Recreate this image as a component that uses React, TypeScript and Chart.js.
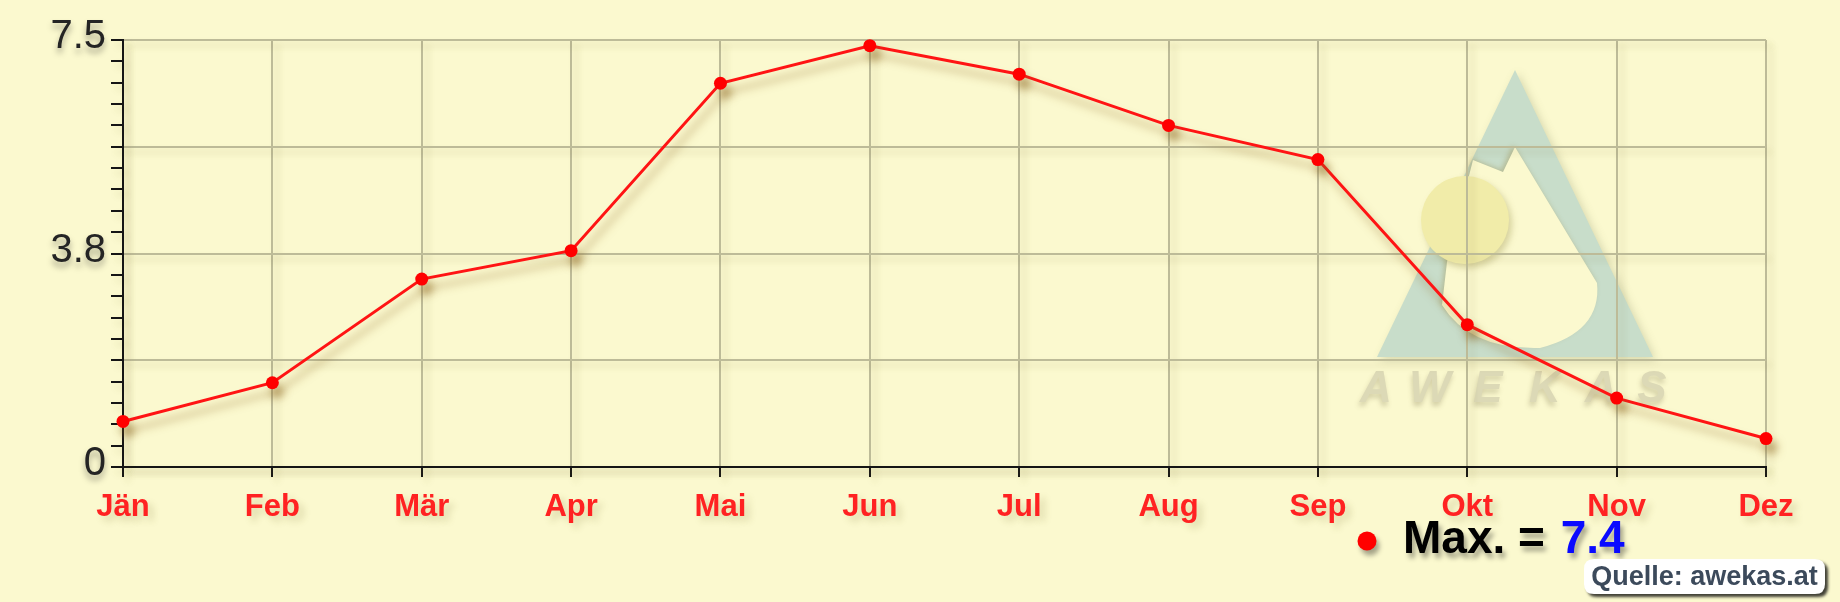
import React, { useEffect, useRef } from "react";
import { Chart, registerables } from "chart.js";

Chart.register(...registerables);

// ---- data ----
const MONTHS = ["Jän", "Feb", "Mär", "Apr", "Mai", "Jun", "Jul", "Aug", "Sep", "Okt", "Nov", "Dez"];
const MAX_VALUES = [0.8, 1.48, 3.3, 3.8, 6.74, 7.4, 6.9, 6.0, 5.4, 2.5, 1.21, 0.5];
const SERIES_NAME = "Max.";
const Y_MIN = 0;
const Y_MAX = 7.5;
const Y_STEP = 0.375;
const Y_LABEL_VALUES = [0, 3.75, 7.5];
const Y_LABELS = ["0", "3.8", "7.5"];
const SOURCE_TEXT = "Quelle: awekas.at";
const WATERMARK_LETTERS = ["A", "W", "E", "K", "A", "S"];

// ---- styles ----
const BG = "#fbf9cf";
const GRID = "#bdbb98";
const AXIS = "#151515";
const RED = "#ff1414";
const FONT = '"Liberation Sans", Arial, Helvetica, sans-serif';

function drawWatermark(ctx: CanvasRenderingContext2D) {
  ctx.save();
  // triangle
  ctx.shadowColor = "rgba(110,120,80,0.25)";
  ctx.shadowBlur = 8;
  ctx.shadowOffsetX = 3;
  ctx.shadowOffsetY = 3;
  ctx.fillStyle = "#c8ddca";
  ctx.beginPath();
  ctx.moveTo(1515, 70);
  ctx.lineTo(1653, 357);
  ctx.lineTo(1377, 357);
  ctx.closePath();
  ctx.fill();
  // inner cut
  ctx.shadowColor = "rgba(150,130,60,0.35)";
  ctx.shadowBlur = 5;
  ctx.shadowOffsetX = -2;
  ctx.shadowOffsetY = -2;
  ctx.fillStyle = BG;
  ctx.beginPath();
  ctx.moveTo(1473, 160);
  ctx.lineTo(1503, 172);
  ctx.lineTo(1515, 147);
  ctx.lineTo(1597, 283);
  ctx.quadraticCurveTo(1602, 332, 1540, 348);
  ctx.quadraticCurveTo(1470, 350, 1442, 305);
  ctx.lineTo(1447, 262);
  ctx.closePath();
  ctx.fill();
  // sun
  ctx.shadowColor = "rgba(150,140,70,0.35)";
  ctx.shadowBlur = 6;
  ctx.shadowOffsetX = 3;
  ctx.shadowOffsetY = 4;
  ctx.fillStyle = "#f1eca9";
  ctx.beginPath();
  ctx.arc(1465, 220, 44, 0, Math.PI * 2);
  ctx.fill();
  // letters
  const centers = [1376, 1430, 1488, 1545, 1601, 1652];
  ctx.font = `italic bold 44px ${FONT}`;
  ctx.textAlign = "center";
  ctx.textBaseline = "alphabetic";
  ctx.fillStyle = "#dcd9b6";
  ctx.shadowColor = "rgba(110,100,60,0.28)";
  ctx.shadowBlur = 5;
  ctx.shadowOffsetX = -1;
  ctx.shadowOffsetY = 4;
  WATERMARK_LETTERS.forEach((l, i) => ctx.fillText(l, centers[i], 402));
  ctx.restore();
}

const decorPlugin = {
  id: "decor",
  beforeDraw(chart: any) {
    const ctx: CanvasRenderingContext2D = chart.ctx;
    ctx.save();
    ctx.fillStyle = BG;
    ctx.fillRect(0, 0, chart.width, chart.height);
    ctx.restore();
    drawWatermark(ctx);
    // subtle shadow for grid / axes
    ctx.shadowColor = "rgba(110,100,30,0.22)";
    ctx.shadowBlur = 7;
    ctx.shadowOffsetX = 5;
    ctx.shadowOffsetY = 5;
  },
  beforeDatasetsDraw(chart: any) {
    const ctx: CanvasRenderingContext2D = chart.ctx;
    ctx.shadowColor = "rgba(140,100,30,0.5)";
    ctx.shadowBlur = 9;
    ctx.shadowOffsetX = 5;
    ctx.shadowOffsetY = 9;
  },
  afterDatasetsDraw(chart: any) {
    const ctx: CanvasRenderingContext2D = chart.ctx;
    ctx.shadowColor = "rgba(0,0,0,0)";
    ctx.shadowBlur = 0;
    ctx.shadowOffsetX = 0;
    ctx.shadowOffsetY = 0;
  },
  afterDraw(chart: any) {
    const ctx: CanvasRenderingContext2D = chart.ctx;
    const yScale = chart.scales.y;
    ctx.save();
    // y labels
    ctx.font = `40px ${FONT}`;
    ctx.fillStyle = "#242424";
    ctx.textAlign = "right";
    ctx.textBaseline = "middle";
    ctx.shadowColor = "rgba(0,0,0,0.35)";
    ctx.shadowBlur = 6;
    ctx.shadowOffsetX = 0;
    ctx.shadowOffsetY = 5;
    Y_LABEL_VALUES.forEach((v, i) => {
      const y = yScale.getPixelForValue(v);
      ctx.fillText(Y_LABELS[i], yScale.right - 17, y - 3);
    });

    // legend
    const maxVal = Math.max(...MAX_VALUES);
    ctx.shadowColor = "rgba(0,0,0,0.35)";
    ctx.shadowBlur = 5;
    ctx.shadowOffsetX = 3;
    ctx.shadowOffsetY = 5;
    ctx.fillStyle = "#ff0000";
    ctx.beginPath();
    ctx.arc(1367, 541, 9.5, 0, Math.PI * 2);
    ctx.fill();
    ctx.font = `bold 46px ${FONT}`;
    ctx.textAlign = "left";
    ctx.textBaseline = "alphabetic";
    ctx.fillStyle = "#000000";
    const prefix = `${SERIES_NAME} = `;
    ctx.fillText(prefix, 1403, 553);
    const w = ctx.measureText(prefix).width;
    ctx.fillStyle = "#0a0aff";
    ctx.fillText(maxVal.toFixed(1), 1403 + w + 3, 553);

    // source box
    const bx = 1584, by = 559, bw = 241, bh = 35, r = 10;
    ctx.shadowColor = "rgba(0,0,0,0.75)";
    ctx.shadowBlur = 3;
    ctx.shadowOffsetX = 3;
    ctx.shadowOffsetY = 3;
    ctx.fillStyle = "#ffffff";
    ctx.beginPath();
    ctx.moveTo(bx + r, by);
    ctx.lineTo(bx + bw - r, by);
    ctx.quadraticCurveTo(bx + bw, by, bx + bw, by + r);
    ctx.lineTo(bx + bw, by + bh - r);
    ctx.quadraticCurveTo(bx + bw, by + bh, bx + bw - r, by + bh);
    ctx.lineTo(bx + r, by + bh);
    ctx.quadraticCurveTo(bx, by + bh, bx, by + bh - r);
    ctx.lineTo(bx, by + r);
    ctx.quadraticCurveTo(bx, by, bx + r, by);
    ctx.closePath();
    ctx.fill();
    ctx.shadowColor = "rgba(0,0,0,0)";
    ctx.shadowBlur = 0;
    ctx.shadowOffsetX = 0;
    ctx.shadowOffsetY = 0;
    ctx.font = `bold 27px ${FONT}`;
    ctx.fillStyle = "#3c4a5b";
    ctx.textAlign = "center";
    ctx.textBaseline = "middle";
    ctx.fillText(SOURCE_TEXT, bx + bw / 2, by + bh / 2 + 1);
    ctx.restore();
  },
};

export default function App() {
  const ref = useRef<HTMLCanvasElement | null>(null);
  useEffect(() => {
    const canvas = ref.current;
    if (!canvas) return;
    const chart = new Chart(canvas, {
      type: "line",
      data: {
        labels: MONTHS,
        datasets: [
          {
            label: SERIES_NAME,
            data: MAX_VALUES,
            borderColor: RED,
            backgroundColor: "#ff0000",
            borderWidth: 3,
            pointRadius: 6.5,
            pointBackgroundColor: "#ff0000",
            pointBorderWidth: 0,
            tension: 0,
            fill: false,
            clip: false as any,
          },
        ],
      },
      options: {
        responsive: false,
        animation: false,
        devicePixelRatio: 1,
        layout: { padding: { top: 40, right: 74, left: 0, bottom: 0 } },
        plugins: {
          legend: { display: false },
          tooltip: { enabled: false },
          title: { display: false },
        },
        scales: {
          x: {
            type: "category",
            offset: false,
            grid: {
              color: GRID,
              lineWidth: 2,
              drawTicks: true,
              tickLength: 10,
              tickColor: AXIS,
              tickWidth: 2,
            },
            border: { display: true, color: AXIS, width: 2 },
            ticks: {
              color: "#ff2222",
              font: { family: FONT, size: 31, weight: "bold" },
              padding: 12,
              maxRotation: 0,
              minRotation: 0,
              autoSkip: false,
            },
            afterFit: (s: any) => {
              s.height = 135;
            },
          },
          y: {
            type: "linear",
            min: Y_MIN,
            max: Y_MAX,
            grid: {
              color: (c: any) => (c.index % 5 === 0 ? GRID : "rgba(0,0,0,0)"),
              lineWidth: (c: any) => (c.index % 5 === 0 ? 2 : 0),
              drawTicks: true,
              tickLength: 12,
              tickColor: AXIS,
              tickWidth: 2,
            },
            border: { display: true, color: AXIS, width: 2 },
            ticks: {
              stepSize: Y_STEP,
              autoSkip: false,
              callback: () => "",
              font: { family: FONT, size: 12 },
              padding: 0,
            },
            afterFit: (s: any) => {
              s.width = 123;
            },
          },
        },
      } as any,
      plugins: [decorPlugin],
    });
    return () => chart.destroy();
  }, []);
  return (
    <div style={{ position: "fixed", left: 0, top: 0, width: 1840, height: 602 }}>
      <canvas ref={ref} width={1840} height={602} style={{ display: "block", width: 1840, height: 602 }} />
    </div>
  );
}
